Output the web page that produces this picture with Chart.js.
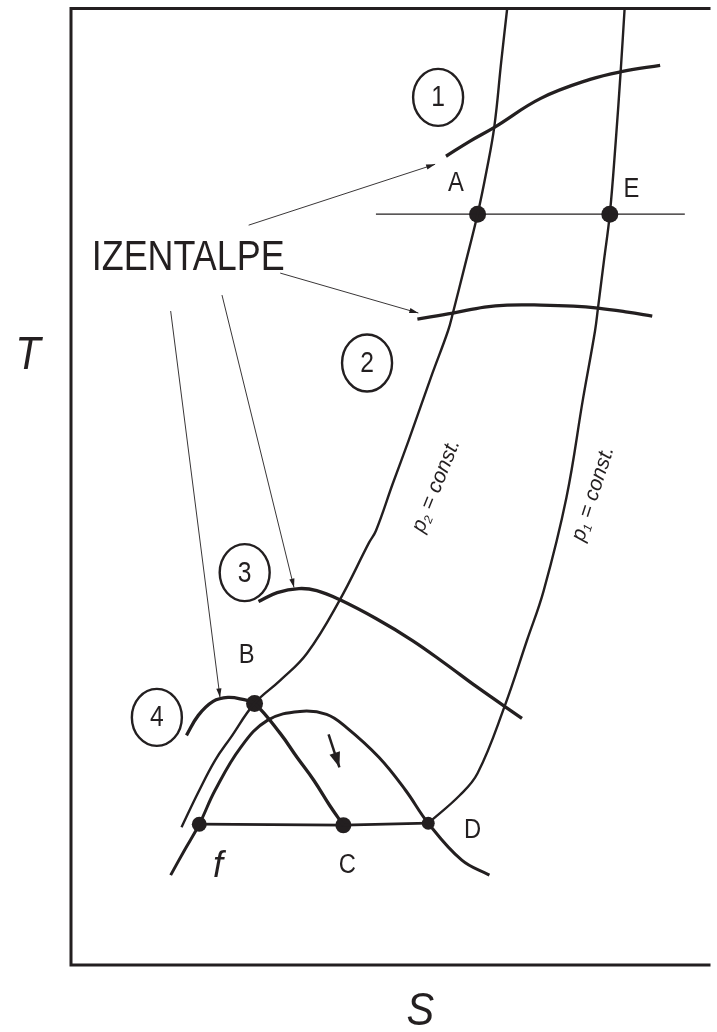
<!DOCTYPE html>
<html>
<head>
<meta charset="utf-8">
<script src="https://cdn.jsdelivr.net/npm/chart.js@4.4.1/dist/chart.umd.min.js"></script>
<style>
  html, body { margin: 0; padding: 0; background: #ffffff; }
  #wrap { width: 717px; height: 1032px; }
</style>
</head>
<body>
<div id="wrap"><canvas id="tsChart" width="717" height="1032"></canvas></div>
<script>
// T-s diagram, schematic units: s to the right, T upwards

const S_MAX = 646;
const T_MAX = 958;

// isobars
const isobarP2 = [[442,958],[436,905],[429,840],[421,795],[412,752],[399,700],[387,653],[382,635],[366,592],[342,525],[326,482],[309,435],[302,423],[272,365],[239,312],[212,285],[186,262],[162,228],[146,205],[129,173],[112,138]];
const isobarP1 = [[561,958],[557,895],[552,825],[546,752],[540,705],[534,658],[531,635],[519,568],[502,468],[479,375],[462,325],[439,258],[412,192],[394,170],[362,142]];

// saturation dome
const dome = [[101,90],[115,115],[130,141],[146,175],[172,218],[199,245],[232,254],[259,251],[279,238],[312,208],[339,175],[362,142],[396,105],[424,90]];

// isenthalps 1..4
const isenthalp1 = [[380,810],[404,825],[429,839],[476,868],[526,887],[559,895],[597,901]];
const isenthalp2 = [[351,647],[387,653],[419,659],[442,661],[476,661],[509,660],[534,658],[564,654],[589,650]];
const isenthalp3 = [[190,364],[209,373],[231,377],[249,375],[272,366],[309,347],[346,325],[379,302],[412,278],[457,247]];
const isenthalp4 = [[117,230],[129,250],[144,264],[159,268],[174,266],[186,262],[212,232],[229,208],[246,185],[262,160],[276,140]];

// constant temperature lines
const lineAE = [[309,752],[622,752]];
const lineFCD = [[130,141],[276,140],[362,142]];

// state points
const stateNames = ['A', 'E', 'B', 'f', 'C', 'D'];
const stateS = [412, 546, 186, 130, 276, 362];
const stateT = [752, 752, 262, 141, 140, 142];
const stateR = [8.5, 8.5, 8.5, 7.5, 8, 6.5];

// letter labels beside the points
const letterText = ['A', 'E', 'B', 'C', 'D'];
const letterS = [390, 568, 178, 280, 407];
const letterT = [783, 777, 310, 100, 135];

// circled region numbers
const circleText = ['1', '2', '3', '4'];
const circleS = [372, 300, 176, 87];
const circleT = [869, 603, 393, 248];

// leader arrows from the IZENTALPE label: [from, to]
const leaders = [
  [[180,741],[369,802]],
  [[212,693],[352,653]],
  [[153,671],[226,378]],
  [[101,655],[151,268]]
];
const flowArrow = [[261,231],[272,198]];

const INK = '#231f20';
const toXY = arr => arr.map(p => ({ x: p[0], y: p[1] }));

function curve(data, width) {
  return {
    data: toXY(data),
    showLine: true,
    borderColor: INK,
    borderWidth: width,
    pointRadius: 0,
    tension: 0.4,
    fill: false
  };
}

const datasets = [
  curve(isobarP2, 2.4),
  curve(isobarP1, 2.4),
  curve(dome, 3),
  curve(isenthalp1, 3.3),
  curve(isenthalp2, 3.3),
  curve(isenthalp3, 3.3),
  curve(isenthalp4, 3.3),
  Object.assign(curve(lineAE, 1.2), { tension: 0 }),
  Object.assign(curve(lineFCD, 2.8), { tension: 0 })
];
leaders.forEach(l => datasets.push(Object.assign(curve(l, 0.9), { tension: 0 })));
datasets.push(Object.assign(curve(flowArrow, 2.5), { tension: 0 }));
datasets.push({
  data: stateS.map((s, i) => ({ x: s, y: stateT[i] })),
  showLine: false,
  pointRadius: stateR,
  pointBackgroundColor: INK,
  pointBorderWidth: 0
});

function arrowHead(ctx, x0, y0, x1, y1, len, half) {
  const a = Math.atan2(y1 - y0, x1 - x0);
  ctx.save();
  ctx.translate(x1, y1);
  ctx.rotate(a);
  ctx.beginPath();
  ctx.moveTo(0, 0);
  ctx.lineTo(-len, -half);
  ctx.lineTo(-len, half);
  ctx.closePath();
  ctx.fill();
  ctx.restore();
}

function squeezedText(ctx, text, x, y, font, sx, align) {
  ctx.save();
  ctx.translate(x, y);
  ctx.scale(sx, 1);
  ctx.font = font;
  ctx.textAlign = align || 'center';
  ctx.fillText(text, 0, 0);
  ctx.restore();
}

const decorPlugin = {
  id: 'decor',
  afterDatasetsDraw(chart) {
    const { ctx, chartArea: ca, scales: { x, y } } = chart;
    const px = s => x.getPixelForValue(s);
    const py = t => y.getPixelForValue(t);
    ctx.save();
    ctx.fillStyle = INK;
    ctx.strokeStyle = INK;

    // frame
    ctx.lineWidth = 3;
    ctx.beginPath();
    ctx.moveTo(ca.right + 2, ca.top);
    ctx.lineTo(ca.left, ca.top);
    ctx.lineTo(ca.left, ca.bottom);
    ctx.lineTo(ca.right + 2, ca.bottom);
    ctx.stroke();

    // arrow heads
    leaders.forEach(l => arrowHead(ctx, px(l[0][0]), py(l[0][1]), px(l[1][0]), py(l[1][1]), 9, 2.6));
    arrowHead(ctx, px(flowArrow[0][0]), py(flowArrow[0][1]), px(flowArrow[1][0]), py(flowArrow[1][1]), 15, 5.5);

    // circled numbers
    ctx.lineWidth = 2.4;
    ctx.textBaseline = 'middle';
    circleText.forEach((t, i) => {
      const cx = px(circleS[i]), cy = py(circleT[i]);
      ctx.beginPath();
      ctx.ellipse(cx, cy, 25, 28.5, 0, 0, Math.PI * 2);
      ctx.stroke();
      squeezedText(ctx, t, cx, cy + 1, '29px "Liberation Sans", Arial, sans-serif', 0.85);
    });

    // point letters
    letterText.forEach((t, i) => {
      squeezedText(ctx, t, px(letterS[i]), py(letterT[i]), '27px "Liberation Sans", Arial, sans-serif', 0.88);
    });
    squeezedText(ctx, 'f', px(149), py(98), 'italic 36px "Liberation Sans", Arial, sans-serif', 1);

    // IZENTALPE
    ctx.textBaseline = 'alphabetic';
    squeezedText(ctx, 'IZENTALPE', px(21), py(696), '43px "Liberation Sans", Arial, sans-serif', 0.835, 'left');

    // isobar labels
    const isoLabel = (sub, s, t, ang) => {
      ctx.save();
      ctx.translate(px(s), py(t));
      ctx.rotate(ang * Math.PI / 180);
      ctx.textBaseline = 'middle';
      ctx.font = 'italic 21px "Liberation Sans", Arial, sans-serif';
      const w1 = ctx.measureText('p').width;
      ctx.font = 'italic 12px "Liberation Sans", Arial, sans-serif';
      const w2 = ctx.measureText(sub).width;
      ctx.font = 'italic 21px "Liberation Sans", Arial, sans-serif';
      const w3 = ctx.measureText(' = const.').width;
      let x0 = -(w1 + w2 + w3) / 2;
      ctx.textAlign = 'left';
      ctx.fillText('p', x0, 0);
      ctx.font = 'italic 12px "Liberation Sans", Arial, sans-serif';
      ctx.fillText(sub, x0 + w1, 6);
      ctx.font = 'italic 21px "Liberation Sans", Arial, sans-serif';
      ctx.fillText(' = const.', x0 + w1 + w2, 0);
      ctx.restore();
    };
    isoLabel('2', 370, 480, -68);
    isoLabel('1', 529, 472, -72);

    // axis letters
    ctx.textBaseline = 'middle';
    squeezedText(ctx, 'T', ca.left - 43, py(T_MAX * 0.636), 'italic 46px "Liberation Sans", Arial, sans-serif', 0.9);
    squeezedText(ctx, 'S', px(S_MAX * 0.548), ca.bottom + 47, 'italic 46px "Liberation Sans", Arial, sans-serif', 0.9);

    ctx.restore();
  }
};

new Chart(document.getElementById('tsChart'), {
  type: 'scatter',
  data: { datasets },
  options: {
    responsive: false,
    animation: false,
    layout: { padding: { left: 71, top: 7, right: 0, bottom: 67 } },
    plugins: { legend: { display: false }, tooltip: { enabled: false } },
    scales: {
      x: { type: 'linear', min: 0, max: S_MAX, display: false },
      y: { type: 'linear', min: 0, max: T_MAX, display: false }
    }
  },
  plugins: [decorPlugin]
});
</script>
</body>
</html>
